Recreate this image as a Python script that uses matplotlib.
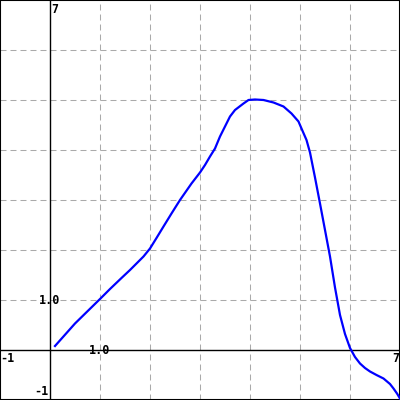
import matplotlib
matplotlib.use("Agg")
import matplotlib.pyplot as plt

x_vals = [0.1, 0.5, 1.0, 1.2, 1.43, 1.6, 1.73, 1.87, 2.0, 2.13, 2.27, 2.43, 2.6, 2.83, 3.0, 3.1,
          3.2, 3.3, 3.4, 3.5, 3.6, 3.7, 3.87, 3.97, 4.1, 4.27, 4.47, 4.67, 4.83, 4.97, 5.03, 5.13, 5.2,
          5.3, 5.4, 5.5, 5.6, 5.7, 5.8, 5.9, 6.0, 6.1, 6.2, 6.3, 6.4, 6.53, 6.67, 6.8, 6.87, 6.94, 7.0]
y_vals = [0.08, 0.53, 1.02, 1.22, 1.44, 1.6, 1.73, 1.87, 2.03, 2.24, 2.47, 2.73, 3.0, 3.33, 3.55, 3.7,
          3.87, 4.03, 4.27, 4.47, 4.67, 4.8, 4.93, 5.0, 5.01, 5.0, 4.95, 4.87, 4.73, 4.57, 4.43, 4.2, 3.95,
          3.45, 2.93, 2.4, 1.87, 1.25, 0.7, 0.32, 0.04, -0.14, -0.27, -0.36, -0.43, -0.5, -0.57, -0.68, -0.77, -0.87, -0.97]
x_range = (-1, 7)
y_range = (-1, 7)
grid_ticks = [-1, 0, 1, 2, 3, 4, 5, 6, 7]

plt.rcParams['lines.scale_dashes'] = False
fig = plt.figure(figsize=(4, 4), dpi=100)
ax = fig.add_axes([0, 0, 1, 1])
ax.set_xlim(*x_range)
ax.set_ylim(*y_range)

for t in grid_ticks[1:-1]:
    if t != 0:
        ax.axvline(t, color='#aaaaaa', lw=0.75, dashes=(4.3, 2.9), zorder=1)
        ax.axhline(t, color='#aaaaaa', lw=0.75, dashes=(4.3, 2.9), zorder=1)
ax.axvline(0, color='black', lw=1.0, zorder=2)
ax.axhline(0, color='black', lw=1.0, zorder=2)

ax.plot(x_vals, y_vals, color='#0000ff', lw=1.6, zorder=3, solid_joinstyle='round')

ax.set_xticks([])
ax.set_yticks([])
for s in ax.spines.values():
    s.set_linewidth(1.5)
    s.set_color('black')

fp = dict(family='DejaVu Sans Mono', fontweight='bold', fontsize=8.5, color='black')
ax.text(0.02, 6.94, '7', ha='left', va='top', **fp)
ax.text(-0.99, -0.03, '-1', ha='left', va='top', **fp)
ax.text(0.0, 1.0, '1.0', ha='center', va='center', **fp)
ax.text(1.0, -0.02, '1.0', ha='center', va='center', **fp)
ax.text(6.98, -0.03, '7', ha='right', va='top', **fp)
ax.text(-0.02, -0.96, '-1', ha='right', va='bottom', **fp)

fig.savefig('out.png', dpi=100)
